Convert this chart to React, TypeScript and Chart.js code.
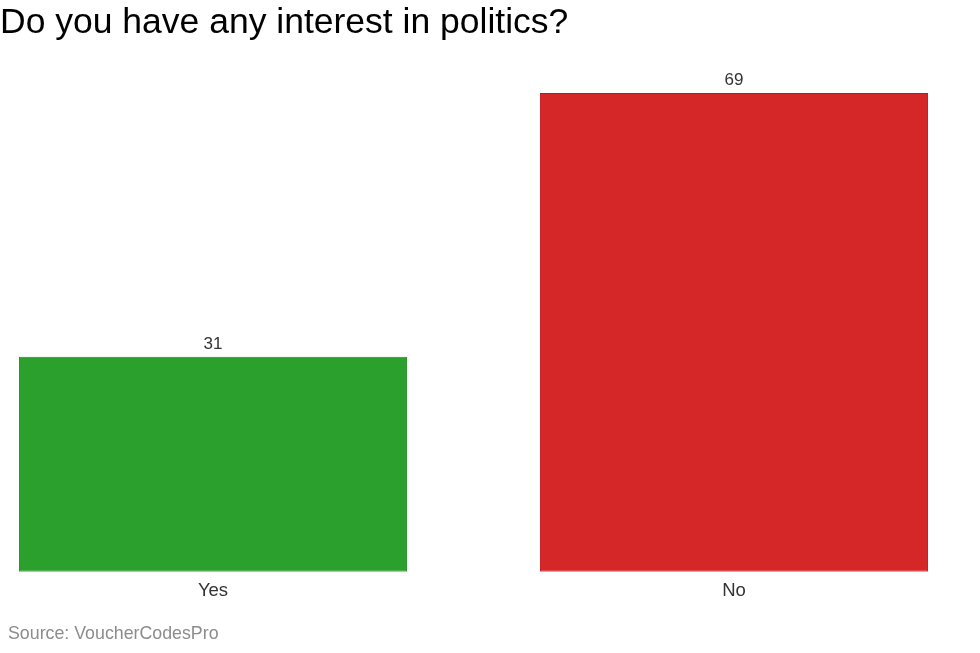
import React, { useEffect, useRef } from "react";
import { Chart, registerables } from "chart.js";

Chart.register(...registerables);

const titleText = "Do you have any interest in politics?";
const sourceText = "Source: VoucherCodesPro";
const categories = ["Yes", "No"];
const values = [31, 69];
const fillColors = ["#2ca02c", "#d62728"];
const borderColors = ["#1e8c1e", "#c4141c"];

const FONT = "'Liberation Sans', Arial, Helvetica, sans-serif";

const textPlugin = {
  id: "textPlugin",
  afterDatasetsDraw(chart: any) {
    const ctx = chart.ctx;
    ctx.save();
    const meta = chart.getDatasetMeta(0);
    ctx.fillStyle = "#333333";
    ctx.font = `17px ${FONT}`;
    ctx.textAlign = "center";
    ctx.textBaseline = "alphabetic";
    meta.data.forEach((bar: any, i: number) => {
      ctx.fillText(String(values[i]), bar.x, bar.y - 8);
    });
    ctx.restore();
  },
  afterDraw(chart: any) {
    const ctx = chart.ctx;
    ctx.save();
    ctx.fillStyle = "#000000";
    ctx.font = `35.5px ${FONT}`;
    ctx.textAlign = "left";
    ctx.textBaseline = "alphabetic";
    ctx.fillText(titleText, 0, 33);
    ctx.fillStyle = "#8c8c8c";
    ctx.font = `17.8px ${FONT}`;
    ctx.fillText(sourceText, 8, 639);
    ctx.restore();
  },
};

export default function App() {
  const ref = useRef<HTMLCanvasElement>(null);
  useEffect(() => {
    if (!ref.current) return;
    const chart = new Chart(ref.current, {
      type: "bar",
      data: {
        datasets: [
          {
            data: categories.map((c, i) => ({ x: i + 1, y: values[i] })),
            backgroundColor: fillColors,
            borderColor: borderColors,
            borderWidth: 1,
            borderSkipped: false,
            categoryPercentage: 1,
            barPercentage: 0.745,
          },
        ],
      },
      options: {
        responsive: false,
        animation: false,
        layout: { padding: { left: 19, right: 52, top: 69, bottom: 51 } },
        plugins: {
          legend: { display: false },
          tooltip: { enabled: false },
          title: { display: false },
        },
        scales: {
          x: {
            type: "linear",
            offset: false,
            min: 1 - 0.3724,
            max: 2 + 0.3724,
            grid: { display: false },
            border: { display: false },
            afterBuildTicks: (scale: any) => {
              scale.ticks = categories.map((_, i) => ({ value: i + 1 }));
            },
            ticks: {
              autoSkip: false,
              maxRotation: 0,
              padding: 0,
              color: "#333333",
              font: { family: FONT, size: 18.5 },
              callback: (v: any) => categories[Number(v) - 1] ?? "",
            },
          },
          y: {
            display: false,
            min: 0,
            max: 72.45,
          },
        },
      },
      plugins: [textPlugin],
    });
    return () => chart.destroy();
  }, []);
  return (
    <div style={{ position: "fixed", left: 0, top: 0, width: 980, height: 653, background: "#fff" }}>
      <canvas ref={ref} width={980} height={653} />
    </div>
  );
}
